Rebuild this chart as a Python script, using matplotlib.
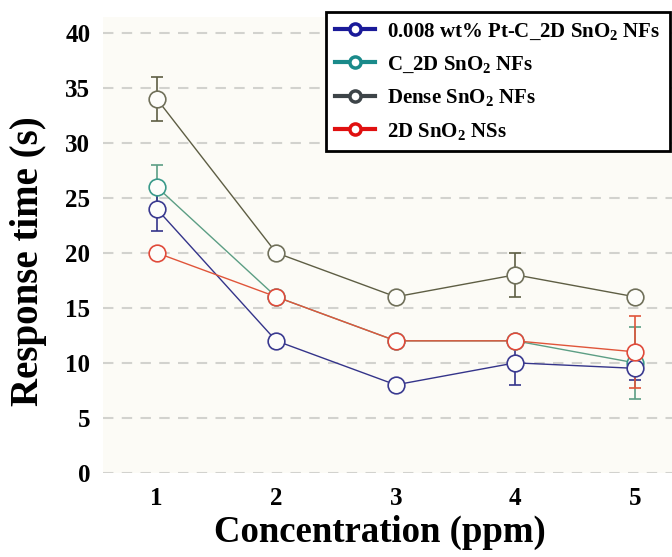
import matplotlib.pyplot as plt
from matplotlib.lines import Line2D

plt.rcParams['font.family'] = ['Liberation Serif', 'DejaVu Serif']
plt.rcParams['font.weight'] = 'bold'
plt.rcParams['mathtext.fontset'] = 'custom'
plt.rcParams['mathtext.rm'] = 'Liberation Serif:bold'
plt.rcParams['mathtext.bf'] = 'Liberation Serif:bold'
plt.rcParams['mathtext.default'] = 'rm'

conc = [1, 2, 3, 4, 5]

labels = ['0.008 wt% Pt-C_2D SnO$_2$ NFs', 'C_2D SnO$_2$ NFs',
          'Dense SnO$_2$ NFs', '2D SnO$_2$ NSs']

pt_c2d = [24, 12, 8, 10, 9.5]
pt_c2d_err = [2, 0, 0, 2, 1.1]
c2d = [26, 16, 12, 12, 10]
c2d_err = [2, 0, 0, 0, 3.3]
dense = [34, 20, 16, 18, 16]
dense_err = [2, 0, 0, 2, 0]
ns2d = [20, 16, 12, 12, 11]
ns2d_err = [0, 0, 0, 0, 3.3]

line_colors = ['#34348a', '#5c9e84', '#5e5e44', '#e0553a']
legend_colors = ['#1a1a99', '#1a8a8a', '#3d4448', '#e01010']
marker_colors = ['#3a3a90', '#3a9a8a', '#70705a', '#e04a3a']

fig = plt.figure(figsize=(6.72, 5.57), dpi=100)
ax = fig.add_axes([0.153, 0.151, 0.847, 0.818])
ax.set_facecolor('#fcfbf6')

series = [(dense, dense_err, 2), (c2d, c2d_err, 1), (pt_c2d, pt_c2d_err, 0), (ns2d, ns2d_err, 3)]
for vals, errs, i in series:
    ax.errorbar(conc, vals, yerr=[e if e > 0 else float('nan') for e in errs],
                color=line_colors[i], lw=1.0, elinewidth=1.2, capsize=4, capthick=1.2,
                marker='o', ms=12, mfc='#fdfdfa', mec=marker_colors[i], mew=1.2, zorder=3)

ax.set_xlim(0.55, 5.31)
ax.set_ylim(0, 41.4)
ax.set_xticks(conc)
ax.set_yticks(range(0, 41, 5))
ax.tick_params(length=0, labelsize=18)
ax.tick_params(axis='x', pad=10)
ax.tick_params(axis='y', pad=9)
for s in ax.spines.values():
    s.set_visible(False)
ax.yaxis.grid(True, ls=(0, (5, 4)), color='#d2d2ce', lw=1.5)
ax.set_axisbelow(True)

ax.set_xlabel('Concentration (ppm)', fontsize=26.5, fontweight='bold')
ax.set_ylabel('Response time (s)', fontsize=28, fontweight='bold')
ax.xaxis.set_label_coords(0.487, -0.093)
ax.yaxis.set_label_coords(-0.098, 0.465)

handles = [Line2D([0], [0], color=c, lw=3, marker='o', ms=8, mfc='white', mec=c, mew=2.5)
           for c in legend_colors]
leg = ax.legend(handles, labels, loc='upper right', bbox_to_anchor=(0.997, 0.978),
                bbox_transform=fig.transFigure,
                prop={'size': 15, 'weight': 'bold'}, frameon=True, fancybox=False,
                edgecolor='black', framealpha=1, handlelength=1.9, handletextpad=0.6,
                labelspacing=0.6, borderpad=0.45, borderaxespad=0)
leg.get_frame().set_linewidth(2)

fig.savefig('out.png', dpi=100)
